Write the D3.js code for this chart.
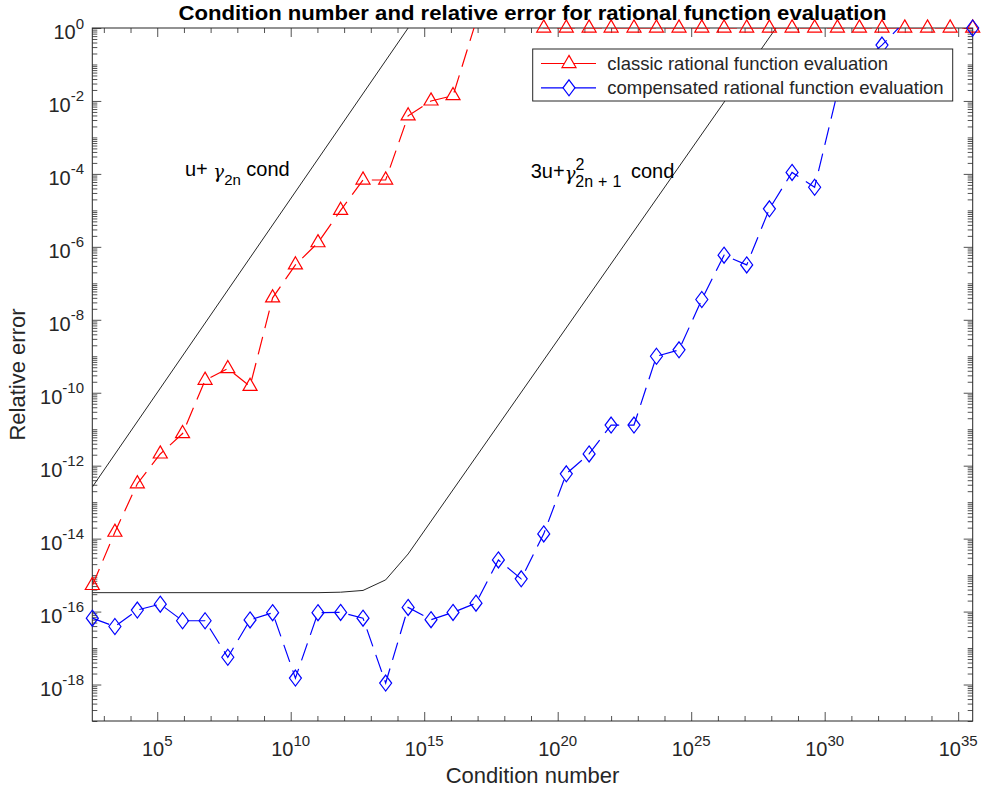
<!DOCTYPE html>
<html>
<head>
<meta charset="utf-8">
<script src="https://cdn.jsdelivr.net/npm/d3@7/dist/d3.min.js"></script>
<style>
	body { margin: 0; background: #fff; }
	text { font-family: "Liberation Sans", Arial, Helvetica, sans-serif; fill: #262626; }
</style>
</head>
<body>
<div id="chart"></div>
<script>
// condition number of each test case (x)
var condNumber = [3.7e2, 2.6e3, 1.8e4, 1.3e5, 8.9e5, 6.2e6, 4.4e7, 3.0e8, 2.1e9, 1.5e10,
	1.05e11, 7.4e11, 5.1e12, 3.6e13, 2.5e14, 1.8e15, 1.2e16, 8.7e16, 6.0e17, 4.3e18,
	3.0e19, 2.1e20, 1.5e21, 1.0e22, 7.2e22, 5.0e23, 3.5e24, 2.5e25, 1.7e26, 1.2e27,
	8.5e27, 6.0e28, 4.2e29, 3.0e30, 2.0e31, 1.4e32, 1.0e33, 7.1e33, 5.0e34, 3.5e35];

// relative error, classic evaluation
var classicError = [5.2e-16, 1.5e-14, 3.2e-13, 2.1e-12, 7.6e-12, 2.2e-10, 4.6e-10, 1.5e-10, 4.0e-8, 3.2e-7,
	1.3e-6, 1.0e-5, 6.8e-5, 6.8e-5, 3.9e-3, 1.0e-2, 1.4e-2, 1.5, 3.2, 2.0,
	1, 1, 1, 1, 1, 1, 1, 1, 1, 1,
	1, 1, 1, 1, 1, 1, 1, 1, 1, 1];

// relative error, compensated evaluation
var compensatedError = [6.6e-17, 3.9e-17, 1.1e-16, 1.6e-16, 5.6e-17, 5.6e-17, 5.6e-18, 5.9e-17, 9.3e-17, 1.5e-18,
	9.3e-17, 9.5e-17, 6.6e-17, 1.1e-18, 1.3e-16, 6.0e-17, 9.5e-17, 1.7e-16, 2.6e-15, 7.9e-16,
	1.35e-14, 6.0e-13, 2.1e-12, 1.3e-11, 1.3e-11, 1.0e-9, 1.5e-9, 3.6e-8, 5.9e-7, 3.2e-7,
	1.1e-5, 1.1e-4, 4.3e-5, 1.7e-2, 1.0e-1, 3.4e-1, 1.5, 2.0, 1.5, 1];

// a priori bounds
var boundClassicCond = [3.7e2, 2.5e14];
var boundClassicError = [2.6e-13, 1];
var boundCompCond = [3.7e2, 1.05e11, 7.4e11, 5.1e12, 3.6e13, 2.5e14, 1.5e28];
var boundCompError = [3.3e-16, 3.3e-16, 3.4e-16, 3.8e-16, 7.4e-16, 3.8e-15, 1];

var xTickExp = [5, 10, 15, 20, 25, 30, 35];
var yTickExp = [-18, -16, -14, -12, -10, -8, -6, -4, -2, 0];
var seriesNames = ["classic rational function evaluation", "compensated rational function evaluation"];

var size = { width : 982, height : 796, left : 92.3, right : 972.7, top : 28, bottom : 721 };
var AXIS_COLOR = "#262626";

var x = d3.scaleLog().domain([condNumber[0], condNumber[condNumber.length - 1]]).range([size.left, size.right]);
var y = d3.scaleLog().domain([1e-19, 1]).range([size.bottom, size.top]);

var svg = d3.select("#chart")
	.append("svg")
	.attr("width", size.width)
	.attr("height", size.height);

svg.append("defs").append("clipPath")
	.attr("id", "plotClip")
	.append("rect")
	.attr("x", size.left)
	.attr("y", size.top)
	.attr("width", size.right - size.left)
	.attr("height", size.bottom - size.top);

// ---- ticks (inward, on all four sides) ----
var xMajor = xTickExp.map(function(_e) { return Math.pow(10, _e); });
var xMinor = [];
for(var e = 3 ; e <= 35 ; e++)	{
	if(e % 5 !== 0) xMinor.push(Math.pow(10, e));
}
var yMajor = yTickExp.map(function(_e) { return Math.pow(10, _e); });
var yMinor = [];
for(var j = -19 ; j <= 0 ; j++)	{
	for(var k = 1 ; k <= 9 ; k++)	{
		var v = k * Math.pow(10, j);
		if(v > 1 || (k === 1 && j % 2 === 0)) continue;
		yMinor.push(v);
	}
}

var drawTicks = function(_axis, _values, _len, _transform)	{
	var g = svg.append("g")
	.attr("transform", _transform)
	.call(_axis.tickValues(_values).tickSize(-_len).tickFormat(""));
	g.select(".domain").remove();
	g.selectAll(".tick line").attr("stroke", AXIS_COLOR).attr("stroke-width", 0.8);
	return g;
}

drawTicks(d3.axisBottom(x), xMajor, 9, "translate(0," + size.bottom + ")");
drawTicks(d3.axisBottom(x), xMinor, 5, "translate(0," + size.bottom + ")");
drawTicks(d3.axisTop(x), xMajor, 9, "translate(0," + size.top + ")");
drawTicks(d3.axisTop(x), xMinor, 5, "translate(0," + size.top + ")");
drawTicks(d3.axisLeft(y), yMajor, 9, "translate(" + size.left + ",0)");
drawTicks(d3.axisLeft(y), yMinor, 5, "translate(" + size.left + ",0)");
drawTicks(d3.axisRight(y), yMajor, 9, "translate(" + size.right + ",0)");
drawTicks(d3.axisRight(y), yMinor, 5, "translate(" + size.right + ",0)");

svg.append("rect")
	.attr("x", size.left)
	.attr("y", size.top)
	.attr("width", size.right - size.left)
	.attr("height", size.bottom - size.top)
	.style("fill", "none")
	.style("stroke", AXIS_COLOR)
	.style("stroke-width", 1);

// ---- tick labels 10^k ----
var xLabel = svg.selectAll(".xTickLabel")
	.data(xTickExp)
	.enter().append("text")
	.attr("class", "xTickLabel")
	.attr("x", function(_d) { return x(Math.pow(10, _d)); })
	.attr("y", 756)
	.attr("text-anchor", "middle")
	.style("font-size", "20px");
xLabel.append("tspan").text("10");
xLabel.append("tspan").attr("dy", -10).style("font-size", "15px").text(function(_d) { return _d; });

var yLabel = svg.selectAll(".yTickLabel")
	.data(yTickExp)
	.enter().append("text")
	.attr("class", "yTickLabel")
	.attr("x", 84)
	.attr("y", function(_d) { return y(Math.pow(10, _d)) + 11; })
	.attr("text-anchor", "end")
	.style("font-size", "20px");
yLabel.append("tspan").text("10");
yLabel.append("tspan").attr("dy", -10.5).style("font-size", "15px").text(function(_d) { return _d === 0 ? "0" : "-" + Math.abs(_d); });

// ---- axis titles ----
svg.append("text")
	.attr("x", (size.left + size.right) / 2)
	.attr("y", 19.5)
	.attr("text-anchor", "middle")
	.attr("textLength", 708)
	.attr("lengthAdjust", "spacingAndGlyphs")
	.style("font-size", "20px")
	.style("font-weight", "bold")
	.style("fill", "#000")
	.text("Condition number and relative error for rational function evaluation");

svg.append("text")
	.attr("x", (size.left + size.right) / 2)
	.attr("y", 783)
	.attr("text-anchor", "middle")
	.style("font-size", "22px")
	.text("Condition number");

svg.append("text")
	.attr("transform", "translate(25," + ((size.top + size.bottom) / 2) + ") rotate(-90)")
	.attr("text-anchor", "middle")
	.style("font-size", "22px")
	.text("Relative error");

// ---- lines ----
var plot = svg.append("g");
var lineGen = d3.line()
	.x(function(_d) { return x(_d[0]); })
	.y(function(_d) { return y(_d[1]); });

var zip = function(_a, _b)	{
	return _a.map(function(_v, _i) { return [_v, _b[_i]]; });
}

plot.append("path")
	.attr("clip-path", "url(#plotClip)")
	.attr("d", lineGen(zip(boundClassicCond, boundClassicError)))
	.style("fill", "none")
	.style("stroke", "#262626")
	.style("stroke-width", 1);

plot.append("path")
	.attr("clip-path", "url(#plotClip)")
	.attr("d", lineGen(zip(boundCompCond, boundCompError)))
	.style("fill", "none")
	.style("stroke", "#262626")
	.style("stroke-width", 1);

var classicPts = zip(condNumber, classicError);
var compPts = zip(condNumber, compensatedError);

plot.append("path")
	.attr("clip-path", "url(#plotClip)")
	.attr("d", lineGen(classicPts))
	.style("fill", "none")
	.style("stroke", "#ff0000")
	.style("stroke-width", 1.2)
	.style("stroke-dasharray", "18,9");

plot.append("path")
	.attr("clip-path", "url(#plotClip)")
	.attr("d", lineGen(compPts))
	.style("fill", "none")
	.style("stroke", "#0000ff")
	.style("stroke-width", 1.2)
	.style("stroke-dasharray", "18,9");

// ---- markers ----
var triangle = d3.symbol().type(d3.symbolTriangle).size(85);
var diamond = "M0,-8L6,0L0,8L-6,0Z";

plot.selectAll(".classicMark")
	.data(classicPts.filter(function(_d) { return _d[1] <= 1; }))
	.enter().append("path")
	.attr("class", "classicMark")
	.attr("transform", function(_d) { return "translate(" + x(_d[0]) + "," + y(_d[1]) + ")"; })
	.attr("d", triangle)
	.style("fill", "none")
	.style("stroke", "#ff0000")
	.style("stroke-width", 1.2);

plot.selectAll(".compMark")
	.data(compPts.filter(function(_d) { return _d[1] <= 1; }))
	.enter().append("path")
	.attr("class", "compMark")
	.attr("transform", function(_d) { return "translate(" + x(_d[0]) + "," + y(_d[1]) + ")"; })
	.attr("d", diamond)
	.style("fill", "none")
	.style("stroke", "#0000ff")
	.style("stroke-width", 1.2);

// ---- annotations (TeX-like) ----
var ann1 = svg.append("text")
	.attr("x", 185)
	.attr("y", 176)
	.style("font-size", "20px")
	.style("fill", "#000");
ann1.append("tspan").text("u+ ");
ann1.append("tspan").style("font-family", "DejaVu Serif").style("font-style", "italic").style("font-size", "18px").attr("dy", 2).text("γ");
ann1.append("tspan").style("font-size", "15px").attr("dy", 7).text("2n");
ann1.append("tspan").attr("dy", -9).text(" cond");

var ann2 = svg.append("text")
	.attr("x", 530.7)
	.attr("y", 178)
	.style("font-size", "20px")
	.style("fill", "#000");
ann2.append("tspan").text("3u+");
ann2.append("tspan").style("font-family", "DejaVu Serif").style("font-style", "italic").style("font-size", "18px").attr("dy", 2).text("γ");
ann2.append("tspan").style("font-size", "16px").attr("dy", -10).text("2");
ann2.append("tspan").style("font-size", "16px").attr("dx", -9).attr("dy", 16.5).text("2n");
ann2.append("tspan").style("font-size", "16px").attr("dx", 5).text("+");
ann2.append("tspan").style("font-size", "16px").attr("dx", 5).text("1");
ann2.append("tspan").attr("dx", 4).attr("dy", -8.5).text(" cond");

// ---- legend ----
var legend = svg.append("g");
legend.append("rect")
	.attr("x", 532.7)
	.attr("y", 49)
	.attr("width", 420)
	.attr("height", 52)
	.style("fill", "#fff")
	.style("stroke", AXIS_COLOR)
	.style("stroke-width", 1);

var legendColors = ["#ff0000", "#0000ff"];
var legendMarks = [triangle(), diamond];
var legendRows = legend.selectAll(".legendRow")
	.data(seriesNames)
	.enter().append("g")
	.attr("class", "legendRow")
	.attr("transform", function(_d, _i) { return "translate(0," + (63.5 + _i * 24.3) + ")"; });

legendRows.append("line")
	.attr("x1", 541).attr("x2", 596)
	.attr("y1", 0).attr("y2", 0)
	.style("stroke", function(_d, _i) { return legendColors[_i]; })
	.style("stroke-width", 1.2);

legendRows.append("path")
	.attr("transform", "translate(569,0)")
	.attr("d", function(_d, _i) { return legendMarks[_i]; })
	.style("fill", "#fff")
	.style("stroke", function(_d, _i) { return legendColors[_i]; })
	.style("stroke-width", 1.2);

legendRows.append("text")
	.attr("x", 607.3)
	.attr("y", 6.5)
	.style("font-size", "18.5px")
	.text(function(_d) { return _d; });
</script>
</body>
</html>
